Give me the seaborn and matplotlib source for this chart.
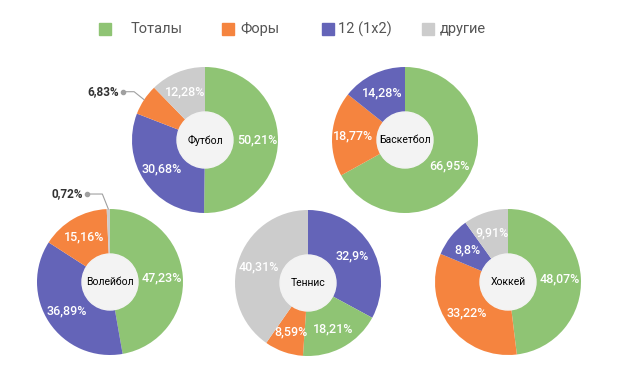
import matplotlib.pyplot as plt
import numpy as np
import seaborn as sns
from matplotlib.patches import Circle

sns.set_theme(style="white")
plt.rcParams["font.family"] = ["Roboto", "DejaVu Sans"]

# data
categories = ["Тоталы", "Форы", "12 (1x2)", "другие"]
colors = sns.color_palette(["#8FC474", "#F5843F", "#6464B8", "#CCCCCC"])

sports = ["Футбол", "Баскетбол", "Волейбол", "Теннис", "Хоккей"]
# slice order (clockwise from top) and values for each sport
football_order = ["Тоталы", "12 (1x2)", "Форы", "другие"]
football_vals = [50.21, 30.68, 6.83, 12.28]
basketball_order = ["Тоталы", "Форы", "12 (1x2)"]
basketball_vals = [66.95, 18.77, 14.28]
volleyball_order = ["Тоталы", "12 (1x2)", "Форы", "другие"]
volleyball_vals = [47.23, 36.89, 15.16, 0.72]
tennis_order = ["12 (1x2)", "Тоталы", "Форы", "другие"]
tennis_vals = [32.9, 18.21, 8.59, 40.31]
hockey_order = ["Тоталы", "Форы", "12 (1x2)", "другие"]
hockey_vals = [48.07, 33.22, 8.8, 9.91]

orders = [football_order, basketball_order, volleyball_order, tennis_order, hockey_order]
values = [football_vals, basketball_vals, volleyball_vals, tennis_vals, hockey_vals]

# layout (pixel coords, y measured from top)
W, H = 618, 388
centers = [(205, 140), (405, 140), (110, 282), (308, 283), (508, 282)]
R, HOLE = 73, 28
# outside-label offsets for small slices: (elbow dx, elbow dy, leader length)
outside = {(0, 2): (-10, 8, 11), (2, 3): (-6, 15, 15)}

fig = plt.figure(figsize=(W / 100, H / 100), dpi=100)
ax = fig.add_axes([0, 0, 1, 1])
ax.set_xlim(0, W)
ax.set_ylim(0, H)
ax.set_aspect("equal")
ax.axis("off")

cmap = dict(zip(categories, colors))

for i, (name, order, vals) in enumerate(zip(sports, orders, values)):
    cx, cy = centers[i]
    cy = H - cy
    wedges, _ = ax.pie(vals, colors=[cmap[c] for c in order], startangle=90,
                       counterclock=False, radius=R, center=(cx, cy),
                       wedgeprops=dict(linewidth=0), frame=True)
    ax.add_patch(Circle((cx, cy), HOLE, color="#F3F3F3", zorder=3))
    ax.text(cx, cy, name, ha="center", va="center", fontsize=7.5,
            color="black", zorder=4)
    for j, (w, v) in enumerate(zip(wedges, vals)):
        lab = f"{v:g}".replace(".", ",") + "%"
        ang = np.deg2rad((w.theta1 + w.theta2) / 2)
        if (i, j) in outside:
            dx, dy, ln = outside[(i, j)]
            px, py = cx + R * np.cos(ang), cy + R * np.sin(ang)
            ex, ey = px + dx, py + dy
            ax.plot([px, ex, ex - ln], [py, ey, ey], color="#A0A0A0",
                    lw=0.8, zorder=4)
            ax.plot([ex - ln], [ey], "o", color="#A0A0A0", ms=3, zorder=4)
            ax.text(ex - ln - 4, ey, lab, ha="right", va="center",
                    fontsize=8.5, fontweight="bold", color="#333333")
        else:
            rr = 52
            ax.text(cx + rr * np.cos(ang), cy + rr * np.sin(ang), lab,
                    ha="center", va="center", fontsize=9,
                    fontweight="medium", color="white", zorder=4)

# legend
leg_x = [105, 228, 328, 428]
text_x = [131, 240, 338, 440]
for c, mx, tx in zip(categories, leg_x, text_x):
    ax.plot([mx], [H - 29], "s", color=cmap[c], ms=8)
    ax.text(tx, H - 29, c, ha="left", va="center", fontsize=10.5,
            color="#555555")

ax.set_xlim(0, W)
ax.set_ylim(0, H)
fig.savefig("out.png", dpi=100, facecolor="white")
